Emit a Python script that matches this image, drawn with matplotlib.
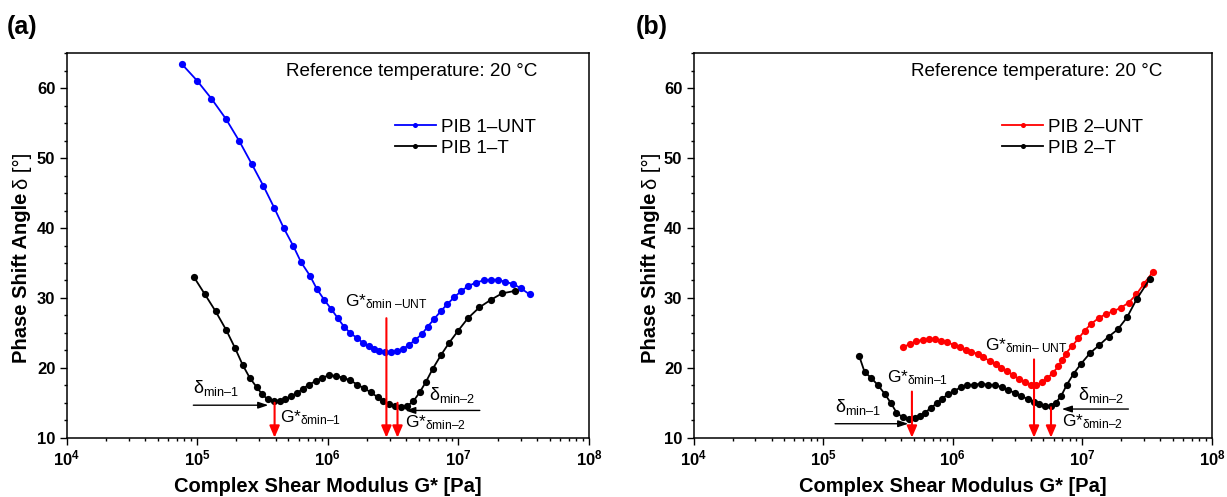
import numpy as np
import matplotlib
matplotlib.use("Agg")
import matplotlib.pyplot as plt
from matplotlib.ticker import MultipleLocator, FixedLocator, LogLocator, NullFormatter

plt.rcParams['font.family'] = ['Liberation Sans', 'DejaVu Sans']
plt.rcParams['mathtext.fontset'] = 'custom'
plt.rcParams['mathtext.rm'] = 'Liberation Sans'
plt.rcParams['mathtext.it'] = 'Liberation Sans:italic'
plt.rcParams['mathtext.bf'] = 'Liberation Sans:bold'

# ---------------- data (log10 of G* in Pa, phase angle in degrees) ----------------
pib1_unt_logG = [4.881, 4.999, 5.110, 5.221, 5.324, 5.420, 5.508, 5.590, 5.663, 5.737,
                 5.796, 5.863, 5.916, 5.974, 6.027, 6.077, 6.124, 6.171, 6.221, 6.268,
                 6.312, 6.353, 6.396, 6.437, 6.484, 6.528, 6.578, 6.622, 6.671, 6.719,
                 6.766, 6.815, 6.865, 6.915, 6.968, 7.023, 7.076, 7.135, 7.193, 7.252,
                 7.301, 7.360, 7.418, 7.477, 7.545]
pib1_unt_delta = [63.5, 61.1, 58.5, 55.6, 52.4, 49.1, 46.0, 42.9, 40.0, 37.4,
                  35.1, 33.2, 31.3, 29.7, 28.4, 27.1, 25.9, 25.0, 24.3, 23.6,
                  23.1, 22.7, 22.4, 22.2, 22.2, 22.4, 22.7, 23.3, 24.0, 24.8,
                  25.9, 27.0, 28.1, 29.1, 30.1, 31.0, 31.7, 32.2, 32.5, 32.6,
                  32.6, 32.3, 32.0, 31.4, 30.5]

pib1_t_logG = [4.975, 5.060, 5.141, 5.223, 5.291, 5.349, 5.402, 5.455, 5.499, 5.539,
               5.587, 5.631, 5.675, 5.716, 5.766, 5.810, 5.857, 5.907, 5.956, 6.009,
               6.062, 6.115, 6.173, 6.226, 6.276, 6.329, 6.382, 6.426, 6.470, 6.514,
               6.558, 6.605, 6.655, 6.704, 6.752, 6.802, 6.866, 6.930, 6.998, 7.073,
               7.161, 7.246, 7.334, 7.433]
pib1_t_delta = [33.0, 30.5, 28.1, 25.4, 22.8, 20.4, 18.6, 17.25, 16.2, 15.5,
                15.25, 15.3, 15.5, 15.9, 16.4, 17.0, 17.6, 18.1, 18.6, 18.9,
                18.85, 18.6, 18.2, 17.6, 17.1, 16.5, 15.8, 15.2, 14.8, 14.5,
                14.35, 14.5, 15.2, 16.5, 18.0, 19.8, 21.8, 23.6, 25.3, 27.1,
                28.65, 29.7, 30.65, 31.0]

pib2_unt_logG = [5.620, 5.671, 5.718, 5.769, 5.816, 5.863, 5.911, 5.958, 6.006, 6.053,
                 6.100, 6.144, 6.192, 6.236, 6.284, 6.331, 6.375, 6.420, 6.468, 6.512,
                 6.557, 6.601, 6.645, 6.687, 6.729, 6.770, 6.815, 6.843, 6.871, 6.919,
                 6.970, 7.017, 7.068, 7.125, 7.181, 7.240, 7.297, 7.356, 7.416, 7.474,
                 7.543]
pib2_unt_delta = [23.0, 23.4, 23.8, 24.0, 24.1, 24.1, 23.9, 23.65, 23.3, 23.0,
                  22.6, 22.3, 22.0, 21.5, 21.0, 20.5, 20.0, 19.5, 18.9, 18.4,
                  17.9, 17.6, 17.5, 17.9, 18.5, 19.25, 20.2, 21.1, 22.0, 23.1,
                  24.2, 25.3, 26.3, 27.1, 27.7, 28.1, 28.6, 29.3, 30.5, 32.0,
                  33.7]

pib2_t_logG = [5.278, 5.320, 5.368, 5.424, 5.478, 5.525, 5.566, 5.614, 5.661, 5.706,
               5.744, 5.786, 5.831, 5.875, 5.919, 5.964, 6.011, 6.062, 6.113, 6.163,
               6.217, 6.272, 6.326, 6.379, 6.430, 6.480, 6.530, 6.577, 6.625, 6.669,
               6.714, 6.757, 6.795, 6.837, 6.881, 6.932, 6.991, 7.059, 7.127, 7.202,
               7.273, 7.344, 7.418, 7.519]
pib2_t_delta = [21.7, 19.4, 18.6, 17.5, 16.2, 14.9, 13.6, 12.9, 12.7, 12.8,
                13.1, 13.6, 14.25, 14.9, 15.6, 16.2, 16.7, 17.2, 17.5, 17.6,
                17.7, 17.6, 17.5, 17.25, 16.8, 16.4, 16.0, 15.5, 15.1, 14.8,
                14.5, 14.55, 15.0, 16.0, 17.6, 19.15, 20.6, 22.1, 23.2, 24.45,
                25.5, 27.2, 29.8, 32.7]

# annotation anchors (log10 G*, delta)
a_red_logG = [5.593, 6.449, 6.534]
a_red_top = [15.0, 27.1, 15.0]
b_red_logG = [5.685, 6.627, 6.758]
b_red_top = [16.6, 21.2, 14.35]

a_blk_from = [(4.971, 14.65), (7.164, 13.9)]
a_blk_to = [(5.545, 14.65), (6.593, 13.9)]
b_blk_from = [(5.092, 12.0), (7.355, 14.1)]
b_blk_to = [(5.657, 12.0), (6.841, 14.1)]

a_labels = [
    (r'$\mathregular{\delta_{min–1}}$', 4.971, 15.7),
    (r'$\mathregular{\delta_{min–2}}$', 6.773, 14.7),
    (r'G*$_{\mathregular{\delta min–1}}$', 5.633, 11.5),
    (r'G*$_{\mathregular{\delta min\ –UNT}}$', 6.133, 28.1),
    (r'G*$_{\mathregular{\delta min–2}}$', 6.588, 10.8),
]
b_labels = [
    (r'$\mathregular{\delta_{min–1}}$', 5.092, 13.0),
    (r'$\mathregular{\delta_{min–2}}$', 6.965, 14.7),
    (r'G*$_{\mathregular{\delta min–1}}$', 5.493, 17.2),
    (r'G*$_{\mathregular{\delta min–\ UNT}}$', 6.249, 21.8),
    (r'G*$_{\mathregular{\delta min–2}}$', 6.841, 10.9),
]

W, H = 1227, 497
fig = plt.figure(figsize=(W / 100, H / 100), dpi=100)


def px_axes(x0, x1, y0, y1):
    return fig.add_axes([x0 / W, 1 - y1 / H, (x1 - x0) / W, (y1 - y0) / H])


axA = px_axes(66.5, 589, 53.3, 437.7)
axB = px_axes(693.5, 1212, 53.3, 437.7)

xt_labels = [r'$\mathbf{10^{%d}}$' % e for e in range(4, 9)]


def style_axes(ax):
    ax.set_xscale('log')
    ax.set_xlim(1e4, 1e8)
    ax.set_ylim(10, 65)
    ax.xaxis.set_major_locator(FixedLocator([1e4, 1e5, 1e6, 1e7, 1e8]))
    ax.set_xticklabels(xt_labels)
    ax.xaxis.set_minor_locator(LogLocator(base=10, subs=np.arange(2, 10), numticks=20))
    ax.xaxis.set_minor_formatter(NullFormatter())
    ax.yaxis.set_major_locator(FixedLocator([10, 20, 30, 40, 50, 60]))
    ax.yaxis.set_minor_locator(MultipleLocator(2.5))
    ax.tick_params(which='major', direction='out', length=5, width=1, labelsize=12, pad=3)
    ax.tick_params(which='minor', direction='out', length=2.5, width=1)
    ax.tick_params(axis='x', which='major', pad=3)
    for lab in ax.get_yticklabels():
        lab.set_fontweight('bold')
    for s in ax.spines.values():
        s.set_linewidth(1.1)
    ax.set_xlabel('Complex Shear Modulus G* [Pa]', fontsize=14.5, fontweight='bold', labelpad=6)
    ax.text(0.42, 0.953, 'Reference temperature: 20 \u00b0C', transform=ax.transAxes,
            fontsize=13.6, ha='left', va='center')


def draw_annots(ax, red_x, red_top, blk_from, blk_to, labels):
    for lx, top in zip(red_x, red_top):
        ax.annotate('', xy=(10 ** lx, 10.0), xytext=(10 ** lx, top),
                    arrowprops=dict(arrowstyle='-|>,head_length=0.7,head_width=0.3',
                                    color='red', lw=1.5, shrinkA=0, shrinkB=0),
                    annotation_clip=False, zorder=5)
    for (fx, fy), (tx, ty) in zip(blk_from, blk_to):
        ax.annotate('', xy=(10 ** tx, ty), xytext=(10 ** fx, fy),
                    arrowprops=dict(arrowstyle='-|>,head_length=0.6,head_width=0.2',
                                    color='black', lw=1.0, shrinkA=0, shrinkB=0),
                    zorder=5)
    for txt, lx, ly in labels:
        fs = 13 if txt.startswith('$') else 12.5
        ax.text(10 ** lx, ly, txt, fontsize=fs, ha='left', va='bottom', zorder=6)


style_axes(axA)
style_axes(axB)

mk = dict(marker='o', markersize=5.2, linewidth=1.3, markeredgewidth=0)
axA.plot(10 ** np.array(pib1_unt_logG), pib1_unt_delta, color='#0000ff', label='PIB 1\u2013UNT', **mk)
axA.plot(10 ** np.array(pib1_t_logG), pib1_t_delta, color='black', label='PIB 1\u2013T', **mk)
axB.plot(10 ** np.array(pib2_unt_logG), pib2_unt_delta, color='#ff0000', label='PIB 2\u2013UNT', **mk)
axB.plot(10 ** np.array(pib2_t_logG), pib2_t_delta, color='black', label='PIB 2\u2013T', **mk)

draw_annots(axA, a_red_logG, a_red_top, a_blk_from, a_blk_to, a_labels)
draw_annots(axB, b_red_logG, b_red_top, b_blk_from, b_blk_to, b_labels)

for ax, x0 in ((axA, 0.628), (axB, 0.595)):
    ax.legend(loc='upper left', bbox_to_anchor=(x0, 0.83), frameon=False, fontsize=13.5,
              handlelength=2.2, handletextpad=0.25, labelspacing=0.2, borderaxespad=0,
              borderpad=0, markerscale=0.7)

# y labels (bold part + regular part) and panel letters
fig.canvas.draw()
renderer = fig.canvas.get_renderer()
for xpx, letter, lx in ((22, '(a)', 7), (651, '(b)', 636)):
    t1 = fig.text(xpx / W, 1 - 363 / H, 'Phase Shift Angle', rotation=90, fontsize=14.5,
                  fontweight='bold', ha='center', va='bottom')
    bb = t1.get_window_extent(renderer)
    top_y = bb.y1 / (H)
    fig.text(xpx / W, top_y + 4 / H, '\u03b4 [\u00b0]', rotation=90, fontsize=14.5,
             ha='center', va='bottom')
    fig.text(lx / W, 1 - 27 / H, letter, fontsize=18, fontweight='bold', ha='left', va='center')

fig.savefig('out.png', dpi=100)
